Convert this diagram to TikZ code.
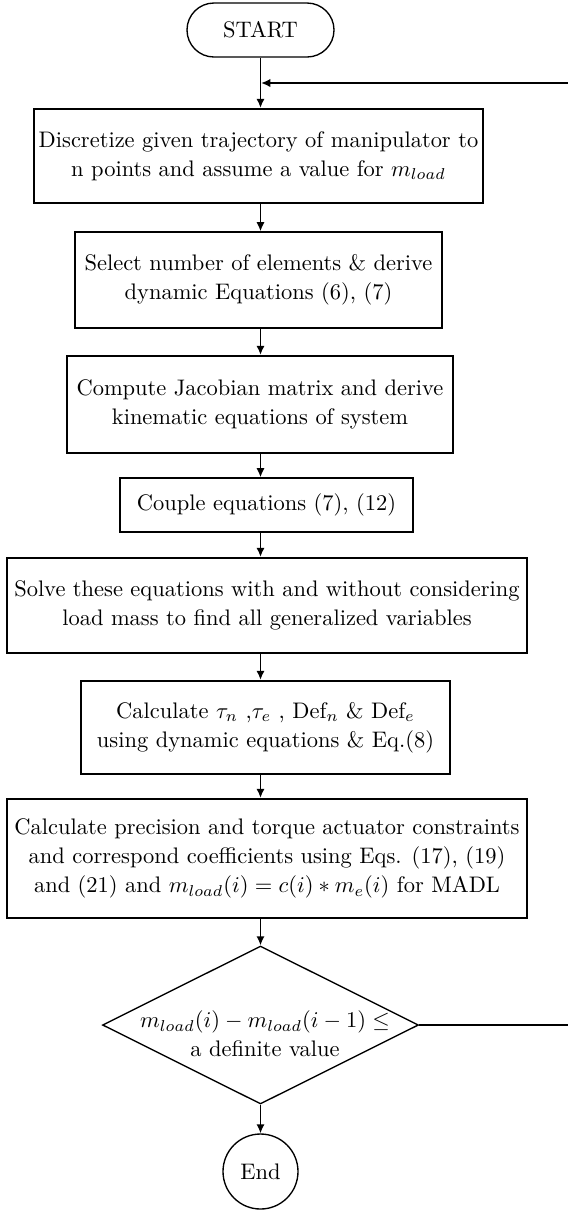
\documentclass[tikz,border=0pt]{standalone}
\usepackage{amsmath}
\usetikzlibrary{arrows.meta,shapes.geometric,positioning}

\newcommand{\pxu}{0.445pt}

\tikzset{
  procbox/.style={draw, line width=1pt, align=center, inner sep=2pt,
    font=\fontsize{10}{13}\selectfont},
  thinbox/.style={procbox, line width=0.7pt},
  flow/.style={line width=0.65pt, -{Latex[length=4pt,width=3.6pt]}},
  backflow/.style={line width=1.15pt, -{Latex[length=4.2pt,width=3.8pt]}}
}

\begin{document}
\begin{tikzpicture}[x=\pxu, y=-\pxu]
  \useasboundingbox (0,0) rectangle (568,1210);
  \clip (0,0) rectangle (568,1210);

  \node[draw, line width=0.6pt, rounded corners=12pt, minimum width=147*\pxu,
    minimum height=54*\pxu, font=\fontsize{10}{13}\selectfont] (start) at (260.5,30) {START};

  \node[procbox, minimum width=447*\pxu, minimum height=94*\pxu] (b1) at (258.5,156)
    {Discretize given trajectory of manipulator to\\ n points and assume a value for $m_{load}$};
  \node[thinbox, minimum width=367*\pxu, minimum height=96*\pxu] (b2) at (258.5,280)
    {Select number of elements \& derive\\ dynamic Equations (6), (7)};
  \node[procbox, minimum width=386*\pxu, minimum height=97*\pxu] (b3) at (260,404.5)
    {Compute Jacobian matrix and derive\\ kinematic equations of system};
  \node[thinbox, minimum width=293*\pxu, minimum height=54*\pxu] (b4) at (266.5,505)
    {Couple equations (7), (12)};
  \node[procbox, minimum width=520*\pxu, minimum height=95*\pxu] (b5) at (267,605.5)
    {Solve these equations with and without considering\\ load mass to find all generalized variables};
  \node[procbox, minimum width=369*\pxu, minimum height=93*\pxu] (b6) at (265.5,727.5)
    {Calculate $\tau_n$ ,$\tau_e$ , Def$_n$ \& Def$_e$\\ using dynamic equations \& Eq.(8)};
  \node[procbox, minimum width=520*\pxu, minimum height=119*\pxu] (b7) at (267,858.5)
    {Calculate precision and torque actuator constraints\\ and correspond coefficients using Eqs. (17), (19)\\ and (21) and $m_{load}(i)=c(i)*m_e(i)$ for MADL};

  % decision
  \node[draw, diamond, line width=0.6pt, inner sep=0pt, minimum width=316*\pxu,
    minimum height=158*\pxu] (dec) at (260.5,1025) {};
  \node[align=center, font=\fontsize{10}{13}\selectfont] (dectext) at (265,1034)
    {$m_{load}(i)-m_{load}(i-1)\le$\\ a definite value};

  \node[draw, circle, line width=0.6pt, inner sep=0pt, minimum size=75*\pxu,
    font=\fontsize{10}{13}\selectfont] (stop) at (260.5,1171.5) {End};

  \coordinate (join) at (261,83);

  \draw[flow] (start.south) -- (b1.north -| start.south);
  \foreach \a/\b in {b1/b2,b2/b3,b3/b4,b4/b5,b5/b6,b6/b7}
    \draw[flow] (\a.south -| start) -- (\b.north -| start);
  \draw[flow] (b7.south -| dec.north) -- (dec.north);
  \draw[flow] (dec.south) -- (stop.north);

  % loop back
  \draw[backflow] (dec.east) -- ++(170,0) |- (join);
\end{tikzpicture}
\end{document}
